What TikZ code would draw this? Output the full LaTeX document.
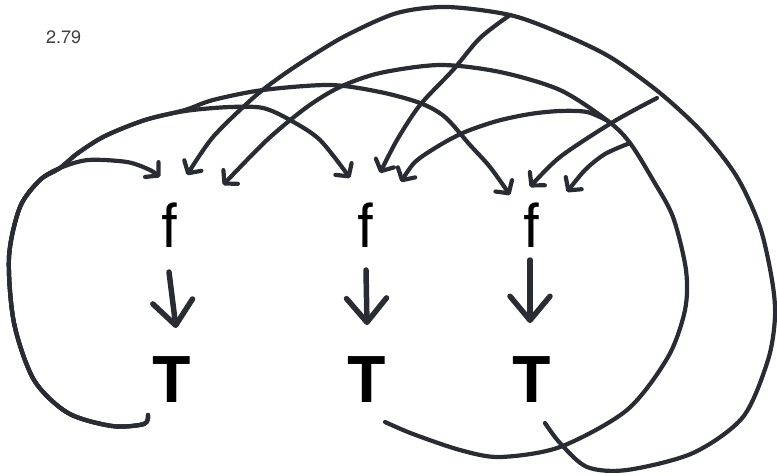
\documentclass[tikz,border=0pt]{standalone}
\usepackage{fontspec}
\setmainfont{TeX Gyre Heros}
\usetikzlibrary{arrows.meta}
\definecolor{ink}{RGB}{42,44,51}
\begin{document}
\begin{tikzpicture}[x=1pt,y=-1pt,
  inkline/.style={draw=ink,line width=4.2pt,line cap=round,line join=round},
  curvearrow/.style={inkline,-{Straight Barb[length=9pt,width=20pt,round]}},
  downarrow/.style={draw=ink,line width=5.5pt,line cap=round,-{Straight Barb[length=24pt,width=40pt,round]}},
  letter/.style={inner sep=0pt,anchor=base,font=\fontsize{61}{61}\selectfont},
  bigT/.style={inner sep=0pt,anchor=base,font=\fontsize{63}{63}\selectfont\bfseries},
]
\useasboundingbox (0,0) rectangle (777,475);
\node[anchor=base west,inner sep=0pt,font=\fontsize{18}{18}\selectfont,text=black!75] (lbl) at (46,43) {2.79};

\node[letter] (f1) at (170,247) {f};
\node[letter] (f2) at (365.5,247) {f};
\node[letter] (f3) at (531.5,247) {f};
\node[bigT] (T1) at (171.5,402) {T};
\node[bigT] (T2) at (367,402) {T};
\node[bigT] (T3) at (531.5,402) {T};

% arrow ends
\coordinate (a1s) at (169,272); \coordinate (a1e) at (176,328);
\coordinate (a2s) at (366,270); \coordinate (a2e) at (367,325);
\coordinate (a3s) at (530,260); \coordinate (a3e) at (530,323);
\draw[downarrow] (a1s) -- (a1e);
\draw[downarrow] (a2s) -- (a2e);
\draw[downarrow] (a3s) -- (a3e);

% incoming tips at the f's
\coordinate (f1L) at (160,177); \coordinate (f1M) at (187,175); \coordinate (f1R) at (223,185);
\coordinate (f2L) at (350,178); \coordinate (f2M) at (380,173); \coordinate (f2R) at (401,182);
\coordinate (f3L) at (510,195); \coordinate (f3M) at (530,187); \coordinate (f3R) at (567,192);

% starts at the T's and forks
\coordinate (t1s) at (148,415);
\coordinate (t2s) at (385,422);
\coordinate (t3s) at (545,423);
\coordinate (j22) at (608,121);
\coordinate (j23) at (630,143);
\coordinate (j32) at (510,15);
\coordinate (s33) at (657,98);

% T1
\draw[curvearrow] plot[smooth] coordinates {(t1s) (144,424) (112,426) (68,413) (34,380) (14,323) (9,257) (20,207) (40,180) (60,168) (88,160) (127,162) (150,170) (f1L)};
\draw[curvearrow] plot[smooth] coordinates {(t1s) (144,424) (112,426) (68,413) (34,380) (14,323) (9,257) (20,207) (40,180) (60,168) (78,153) (105,136) (145,120) (185,111) (230,107) (263,108) (290,120) (320,140) (f2L)};
\draw[curvearrow] plot[smooth] coordinates {(t1s) (144,424) (112,426) (68,413) (34,380) (14,323) (9,257) (20,207) (40,180) (60,168) (78,153) (105,136) (145,120) (185,110) (213,100) (263,90) (330,85) (380,92) (420,103) (445,117) (470,145) (490,167) (f3L)};

% T2
\draw[curvearrow] plot[smooth] coordinates {(t2s) (413,434) (460,450) (500,457) (560,447) (627,410) (668,357) (685,310) (686,270) (673,217) (653,180) (j23) (j22) (560,90) (500,72) (440,65) (380,73) (340,87) (307,107) (267,140) (f1R)};
\draw[curvearrow] plot[smooth] coordinates {(j22) (587,112) (560,111) (530,114) (497,121) (465,132) (440,145) (415,162) (f2R)};
\draw[curvearrow] plot[smooth] coordinates {(j23) (605,154) (585,170) (f3R)};

% T3
\draw[curvearrow] plot[smooth] coordinates {(t3s) (560,443) (587,467) (627,470) (693,453) (743,417) (768,360) (775,317) (772,280) (760,227) (737,177) (703,133) (660,93) (610,57) (560,33) (j32) (447,7) (397,13) (347,35) (310,57) (280,77) (253,98) (213,137) (f1M)};
\draw[curvearrow] plot[smooth] coordinates {(j32) (480,38) (453,70) (420,105) (397,140) (f2M)};
\draw[curvearrow] plot[smooth] coordinates {(s33) (613,122) (560,157) (f3M)};
\end{tikzpicture}
\end{document}
